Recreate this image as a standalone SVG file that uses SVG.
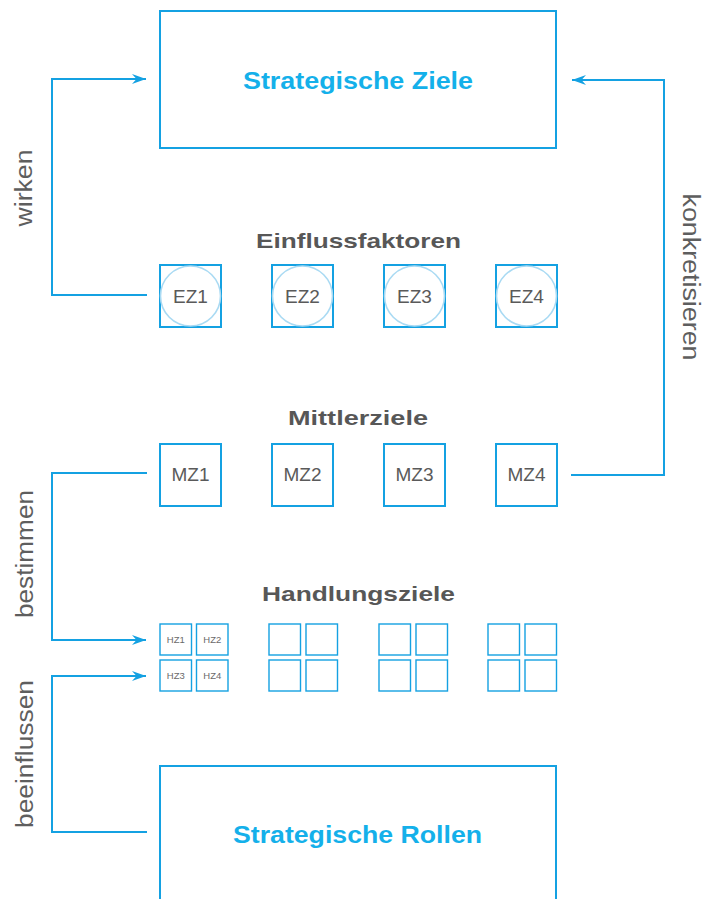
<svg xmlns="http://www.w3.org/2000/svg" width="703" height="899" viewBox="0 0 703 899">
  <defs>
    <style>
      .frame { fill: #ffffff; stroke: #14a1e2; stroke-width: 2; }
      .box { fill: #ffffff; stroke: #14a1e2; stroke-width: 2; }
      .small { fill: #ffffff; stroke: #14a1e2; stroke-width: 1.4; }
      .ring { fill: none; stroke: #a9daf3; stroke-width: 1.6; }
      .conn { fill: none; stroke: #14a1e2; stroke-width: 2; }
      .title { font-family: "Liberation Sans", Arial, sans-serif; font-weight: bold; font-size: 24px; fill: #14b0ea; text-anchor: middle; }
      .head { font-family: "Liberation Sans", Arial, sans-serif; font-weight: bold; font-size: 21px; fill: #575757; text-anchor: middle; }
      .lbl { font-family: "Liberation Sans", Arial, sans-serif; font-size: 19px; fill: #5a5a5a; text-anchor: middle; }
      .tiny { font-family: "Liberation Sans", Arial, sans-serif; font-size: 9.5px; fill: #6a6a6a; text-anchor: middle; }
      .verb { font-family: "Liberation Sans", Arial, sans-serif; font-size: 23px; fill: #5e5e5e; text-anchor: middle; }
    </style>
    <marker id="arrow" viewBox="0 0 14 10" refX="14" refY="5" markerWidth="14" markerHeight="10" markerUnits="userSpaceOnUse" orient="auto">
      <path d="M0,0 L14,5 L0,10 L4.5,5 z" fill="#14a1e2"/>
    </marker>
  </defs>

  <!-- connectors -->
  <g id="connectors">
    <path class="conn" d="M147,295 H52 V79 H146" marker-end="url(#arrow)"/>
    <path class="conn" d="M571,475 H664 V80 H572" marker-end="url(#arrow)"/>
    <path class="conn" d="M147,473 H52 V640 H146" marker-end="url(#arrow)"/>
    <path class="conn" d="M147,832 H52 V676 H146" marker-end="url(#arrow)"/>
  </g>

  <!-- connector labels -->
  <g id="labels">
    <text class="verb" transform="translate(32,188) rotate(-90)" textLength="77" lengthAdjust="spacingAndGlyphs">wirken</text>
    <text class="verb" transform="translate(33,554) rotate(-90)" textLength="128" lengthAdjust="spacingAndGlyphs">bestimmen</text>
    <text class="verb" transform="translate(33,754) rotate(-90)" textLength="148" lengthAdjust="spacingAndGlyphs">beeinflussen</text>
    <text class="verb" transform="translate(683,277) rotate(90)" textLength="167" lengthAdjust="spacingAndGlyphs">konkretisieren</text>
  </g>

  <!-- top frame -->
  <g id="strategische-ziele">
    <rect class="frame" x="160" y="11" width="396" height="137"/>
    <text class="title" x="358" y="89" textLength="230" lengthAdjust="spacingAndGlyphs">Strategische Ziele</text>
  </g>

  <!-- section headings -->
  <g id="headings">
    <text class="head" x="358.5" y="248" textLength="205" lengthAdjust="spacingAndGlyphs">Einflussfaktoren</text>
    <text class="head" x="358" y="425" textLength="140" lengthAdjust="spacingAndGlyphs">Mittlerziele</text>
    <text class="head" x="358.5" y="601" textLength="193" lengthAdjust="spacingAndGlyphs">Handlungsziele</text>
  </g>

  <!-- influencing factors -->
  <g id="ez1">
    <rect class="box" x="160" y="265" width="61" height="62"/>
    <circle class="ring" cx="190.5" cy="296" r="30"/>
    <text class="lbl" x="190.5" y="303">EZ1</text>
  </g>
  <g id="ez2">
    <rect class="box" x="272" y="265" width="61" height="62"/>
    <circle class="ring" cx="302.5" cy="296" r="30"/>
    <text class="lbl" x="302.5" y="303">EZ2</text>
  </g>
  <g id="ez3">
    <rect class="box" x="384" y="265" width="61" height="62"/>
    <circle class="ring" cx="414.5" cy="296" r="30"/>
    <text class="lbl" x="414.5" y="303">EZ3</text>
  </g>
  <g id="ez4">
    <rect class="box" x="496" y="265" width="61" height="62"/>
    <circle class="ring" cx="526.5" cy="296" r="30"/>
    <text class="lbl" x="526.5" y="303">EZ4</text>
  </g>

  <!-- intermediate goals -->
  <g id="mz1">
    <rect class="box" x="160" y="444" width="61" height="62"/>
    <text class="lbl" x="190.5" y="481">MZ1</text>
  </g>
  <g id="mz2">
    <rect class="box" x="272" y="444" width="61" height="62"/>
    <text class="lbl" x="302.5" y="481">MZ2</text>
  </g>
  <g id="mz3">
    <rect class="box" x="384" y="444" width="61" height="62"/>
    <text class="lbl" x="414.5" y="481">MZ3</text>
  </g>
  <g id="mz4">
    <rect class="box" x="496" y="444" width="61" height="62"/>
    <text class="lbl" x="526.5" y="481">MZ4</text>
  </g>

  <!-- action goals -->
  <g id="hz-group1">
    <rect class="small" x="160" y="624" width="31.5" height="31"/>
    <rect class="small" x="196.5" y="624" width="31.5" height="31"/>
    <rect class="small" x="160" y="660" width="31.5" height="31"/>
    <rect class="small" x="196.5" y="660" width="31.5" height="31"/>
    <text class="tiny" x="175.8" y="643">HZ1</text>
    <text class="tiny" x="212.3" y="643">HZ2</text>
    <text class="tiny" x="175.8" y="679">HZ3</text>
    <text class="tiny" x="212.3" y="679">HZ4</text>
  </g>
  <g id="hz-group2">
    <rect class="small" x="269" y="624" width="31.5" height="31"/>
    <rect class="small" x="306" y="624" width="31.5" height="31"/>
    <rect class="small" x="269" y="660" width="31.5" height="31"/>
    <rect class="small" x="306" y="660" width="31.5" height="31"/>
  </g>
  <g id="hz-group3">
    <rect class="small" x="379" y="624" width="31.5" height="31"/>
    <rect class="small" x="416" y="624" width="31.5" height="31"/>
    <rect class="small" x="379" y="660" width="31.5" height="31"/>
    <rect class="small" x="416" y="660" width="31.5" height="31"/>
  </g>
  <g id="hz-group4">
    <rect class="small" x="488" y="624" width="31.5" height="31"/>
    <rect class="small" x="525" y="624" width="31.5" height="31"/>
    <rect class="small" x="488" y="660" width="31.5" height="31"/>
    <rect class="small" x="525" y="660" width="31.5" height="31"/>
  </g>

  <!-- bottom frame, open towards the lower edge -->
  <g id="strategische-rollen">
    <path class="frame" d="M160,910 V766 H556 V910"/>
    <text class="title" x="357.5" y="843" textLength="249" lengthAdjust="spacingAndGlyphs">Strategische Rollen</text>
  </g>
</svg>
